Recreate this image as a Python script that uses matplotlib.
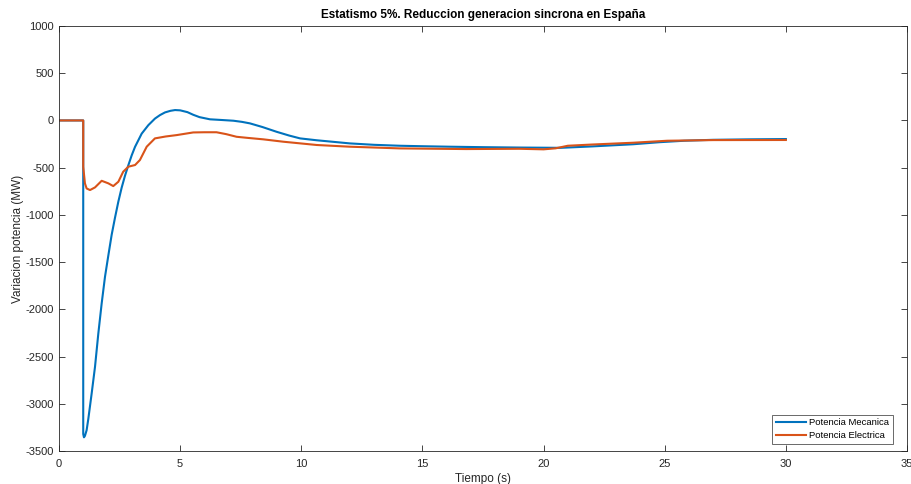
import matplotlib
matplotlib.use("Agg")
import matplotlib.pyplot as plt

plt.rcParams['font.family'] = ['Liberation Sans', 'DejaVu Sans']
plt.rcParams['axes.unicode_minus'] = False

# Mechanical power deviation (MW)
t_mec = [0, 1.0, 1.0, 1.03, 1.07, 1.14, 1.21, 1.348, 1.486, 1.623, 1.761, 1.898,
         2.036, 2.174, 2.311, 2.449, 2.586, 2.724, 2.861, 3.0, 3.137, 3.412,
         3.687, 3.962, 4.17, 4.375, 4.6, 4.79, 5.0, 5.3, 5.54, 5.8, 6.23, 6.7,
         7.2, 7.55, 7.88, 8.4, 8.98, 9.5, 9.95, 10.64, 11.3, 12.0, 13.0, 14.07,
         15.0, 16.1, 17.5, 19.0, 20.7, 22.0, 23.7, 24.8, 25.8, 27.0, 28.5, 30.0]
p_mec = [0, 0, -3320, -3355, -3340, -3280, -3160, -2891, -2609, -2256, -1938,
         -1656, -1430, -1210, -1030, -860, -712, -585, -475, -370, -280, -140,
         -50, 20, 57, 85, 102, 110, 107, 88, 60, 35, 12, 5, -3, -15, -31, -70,
         -120, -160, -190, -210, -226, -243, -258, -268, -273, -278, -283, -287,
         -290, -275, -252, -230, -215, -205, -200, -197]

# Electrical power deviation (MW)
t_ele = [0, 1.0, 1.0, 1.07, 1.14, 1.28, 1.486, 1.761, 2.036, 2.24, 2.45, 2.65,
         2.86, 3.14, 3.34, 3.62, 3.96, 4.4, 4.86, 5.54, 6.0, 6.5, 6.9, 7.33,
         7.8, 8.43, 9.25, 10.64, 12.0, 14.07, 16.8, 19.0, 20.0, 20.5, 21.0,
         22.0, 23.7, 25.1, 27.0, 30.0]
p_ele = [0, 0, -490, -666, -720, -737, -709, -639, -666, -695, -649, -543,
         -490, -472, -419, -278, -190, -170, -155, -127, -125, -125, -145, -173,
         -185, -200, -225, -260, -278, -296, -303, -300, -306, -295, -268,
         -255, -236, -215, -208, -207]

x_ticks = list(range(0, 36, 5))
y_ticks = list(range(-3500, 1001, 500))

fig = plt.figure(figsize=(9.12, 4.84), dpi=100)
ax = fig.add_axes([59/912, 1-451/484, (907-59)/912, (451-26)/484])

ax.plot(t_mec, p_mec, color='#0072BD', lw=1.5, label='Potencia Mecanica')
ax.plot(t_ele, p_ele, color='#D95319', lw=1.5, label='Potencia Electrica')

ax.set_xlim(0, 35)
ax.set_ylim(-3500, 1000)
ax.set_xticks(x_ticks)
ax.set_yticks(y_ticks)
ax.tick_params(direction='in', top=True, right=True, length=4, width=0.6,
               labelsize=8, colors='#262626')
ax.tick_params(axis='x', pad=5.5)
for s in ax.spines.values():
    s.set_color('#262626')
    s.set_linewidth(0.6)

ax.set_title('Estatismo 5%. Reduccion generacion sincrona en España',
             fontsize=8.5, fontweight='bold', color='#000000', pad=6)
ax.set_xlabel('Tiempo (s)', fontsize=8.5, color='#262626', labelpad=3)
ax.set_ylabel('Variacion potencia (MW)', fontsize=8.5, color='#262626', labelpad=1)

leg = ax.legend(loc='lower right', fontsize=6.8, frameon=True, fancybox=False,
                edgecolor='#262626', borderpad=0.4, handlelength=3.2,
                handletextpad=0.35, labelspacing=0.4, borderaxespad=0,
                bbox_to_anchor=(1-14/848, 7/425))
leg.get_frame().set_linewidth(0.6)

fig.savefig('out.png', dpi=100)
